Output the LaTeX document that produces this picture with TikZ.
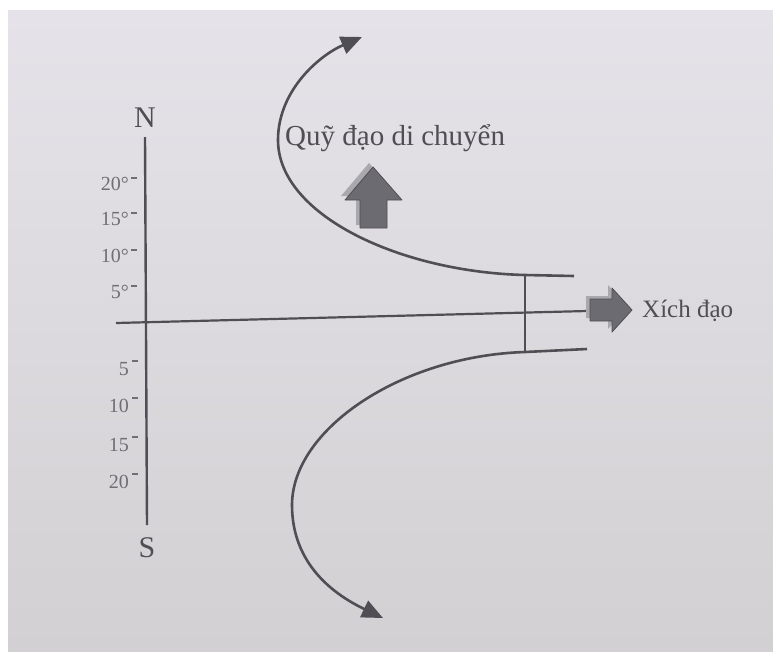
\documentclass[tikz,border=0pt]{standalone}
\usepackage{fontspec}
\setmainfont{Liberation Serif}
\usetikzlibrary{arrows.meta}
\definecolor{ink}{HTML}{4F4E54}
\definecolor{paper}{HTML}{E5E3E9}
\definecolor{paperlow}{HTML}{D3D0D3}
\definecolor{halftone}{HTML}{6C6B71}
\definecolor{ghost}{HTML}{AAA8AF}
\definecolor{scalegray}{HTML}{6F6E74}
\tikzset{px/.style={x=1pt,y=-1pt,line join=round},
  track/.style={ink,line width=2.6pt,-{Triangle[length=21pt,width=18pt]}},
  deg/.style={scalegray,font=\fontsize{20}{20}\selectfont,anchor=base east,inner sep=0pt},
  tick/.style={scalegray,line width=1.8pt},
  pole/.style={ink,font=\fontsize{30}{30}\selectfont,anchor=base,inner sep=0pt}}

\begin{document}
\begin{tikzpicture}[px]
  \useasboundingbox (0,0) rectangle (773,651);
  \shade[top color=paper,bottom color=paperlow] (8,10) rectangle (773,651);
  % latitude scale
  \node[pole] (N) at (145,127) {N};
  \node[pole] (S) at (147,557) {S};
  \coordinate (ax-top) at (145,137);\coordinate (ax-bot) at (147,525);
  \draw[ink,line width=2.4pt] (ax-top)--(ax-bot);
  \foreach \v/\y in {20/190,15/225,10/262,5/298}{
    \node[deg] (n\v) at (129,\y){\v°};
    \draw[tick] (131,\y-12)--(137,\y-12);}
  \foreach \v/\y in {5/375,10/412,15/451,20/488}{
    \node[deg] (s\v) at (129,\y){\v};
    \draw[tick] (132,\y-14)--(138,\y-14);}
  % equator
  \coordinate (eq-w) at (116,323);\coordinate (eq-e) at (587,311);
  \draw[ink,line width=2.2pt] (eq-w)--(eq-e);
  % tracks
  \coordinate (up-end) at (574,276);\coordinate (up-bend) at (525,275);
  \coordinate (up-west) at (278,140);\coordinate (up-tip) at (362,37);
  \coordinate (lo-end) at (587,349);\coordinate (lo-bend) at (525,352);
  \coordinate (lo-west) at (292,505);\coordinate (lo-tip) at (383,618);
  \draw[track] (up-end)--(up-bend) .. controls (400,272) and (278,215) .. (up-west) .. controls (278,90) and (320,55) .. (up-tip);
  \draw[track] (lo-end)--(lo-bend) .. controls (400,356) and (292,430) .. (lo-west) .. controls (292,565) and (335,595) .. (lo-tip);
  \draw[ink,line width=1.6pt] (up-bend)--(lo-bend);
  % block arrows
  \fill[ghost] (356,225)--(356,196)--(341,196)--(369,163)--(398,196)--(383,196)--(383,225)--cycle;
  \fill[halftone,draw=ink,line width=.8pt] (360,228)--(360,200)--(345,200)--(373,167)--(402,200)--(387,200)--(387,228)--cycle;
  \fill[ghost] (586,296)--(608,296)--(608,285)--(628,307)--(608,329)--(608,318)--(586,318)--cycle;
  \fill[halftone,draw=ink,line width=.8pt] (590,299)--(612,299)--(612,288)--(632,310)--(612,332)--(612,321)--(590,321)--cycle;
  \node[ink,font=\fontsize{29}{31}\selectfont,anchor=base west,inner sep=0pt] (orbit) at (285,145){Quỹ đạo di chuyển};
  \node[ink,font=\fontsize{25}{27}\selectfont,anchor=base west,inner sep=0pt] (equator) at (642,317){Xích đạo};
\end{tikzpicture}
\end{document}
